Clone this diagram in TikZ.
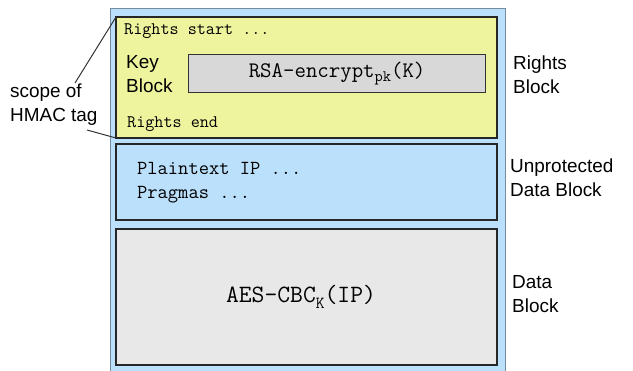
\documentclass[tikz,border=0pt]{standalone}
\usepackage{fontspec}
\setmainfont{Liberation Sans}
\definecolor{outerblue}{RGB}{187,224,251}
\definecolor{outerline}{RGB}{120,140,160}
\definecolor{rightsyellow}{RGB}{238,244,158}
\definecolor{datagray}{RGB}{232,232,232}
\definecolor{rsagray}{RGB}{216,216,216}
\tikzset{
  blk/.style={draw=black!85, line width=1.6bp, anchor=north west, inner sep=0pt, outer sep=0pt},
  lbl/.style={font=\fontsize{19}{24}\selectfont, align=left, anchor=west, inner sep=0pt},
  mono/.style={font=\ttfamily\fontsize{17.7}{23}\selectfont, anchor=west, inner sep=0pt, align=left},
}
\begin{document}
\begin{tikzpicture}[x=1bp,y=-1bp]
\useasboundingbox (0,0) rectangle (633,370);
\node[anchor=north west, inner sep=0pt, fill=outerblue, draw=outerline, line width=0.8bp, minimum width=395bp, minimum height=366bp] (outer) at (110,8) {};
\node[blk, fill=rightsyellow, minimum width=381bp, minimum height=121bp] (rights) at (116,17) {};
\node[blk, fill=outerblue, minimum width=381bp, minimum height=76bp] (unprot) at (116,144) {};
\node[blk, fill=datagray, minimum width=381bp, minimum height=136bp] (data) at (116,229) {};
\node[anchor=north west, inner sep=0pt, draw=black!80, line width=1.2bp, fill=rsagray, minimum width=297bp, minimum height=38bp] (rsa) at (188,54) {};
\node[font=\ttfamily\fontsize{22.3}{23}\selectfont, inner sep=0pt] (rsatext) at (rsa.center) {RSA-encrypt{\fontsize{16}{16}\selectfont\raisebox{-0.3em}{pk}}(K)};
\node[mono] (rstart) at (124,31) {Rights start ...};
\node[mono] (rend) at (127,124) {Rights end};
\node[lbl] (key) at (126,74) {Key\\Block};
\node[font=\ttfamily\fontsize{20}{24}\selectfont, anchor=west, inner sep=0pt, align=left] (plain) at (137,183) {Plaintext IP ...\\Pragmas ...};
\node[font=\ttfamily\fontsize{25}{26}\selectfont, inner sep=0pt] (aes) at (301,297) {AES-CBC{\fontsize{17}{17}\selectfont\raisebox{-0.35em}{K}}(IP)};
\node[lbl] (rb) at (513,75) {Rights\\Block};
\node[lbl] (ub) at (510,178) {Unprotected\\Data Block};
\node[lbl] (db) at (512,294) {Data\\Block};
\node[lbl] (scope) at (10,105) {scope of\\HMAC tag};
\coordinate (s1) at (75,83);
\coordinate (s2) at (87,130);
\draw[line width=1bp, black!80] (s1) -- (rights.north west);
\draw[line width=1bp, black!80] (s2) -- (rights.south west);
\end{tikzpicture}
\end{document}
